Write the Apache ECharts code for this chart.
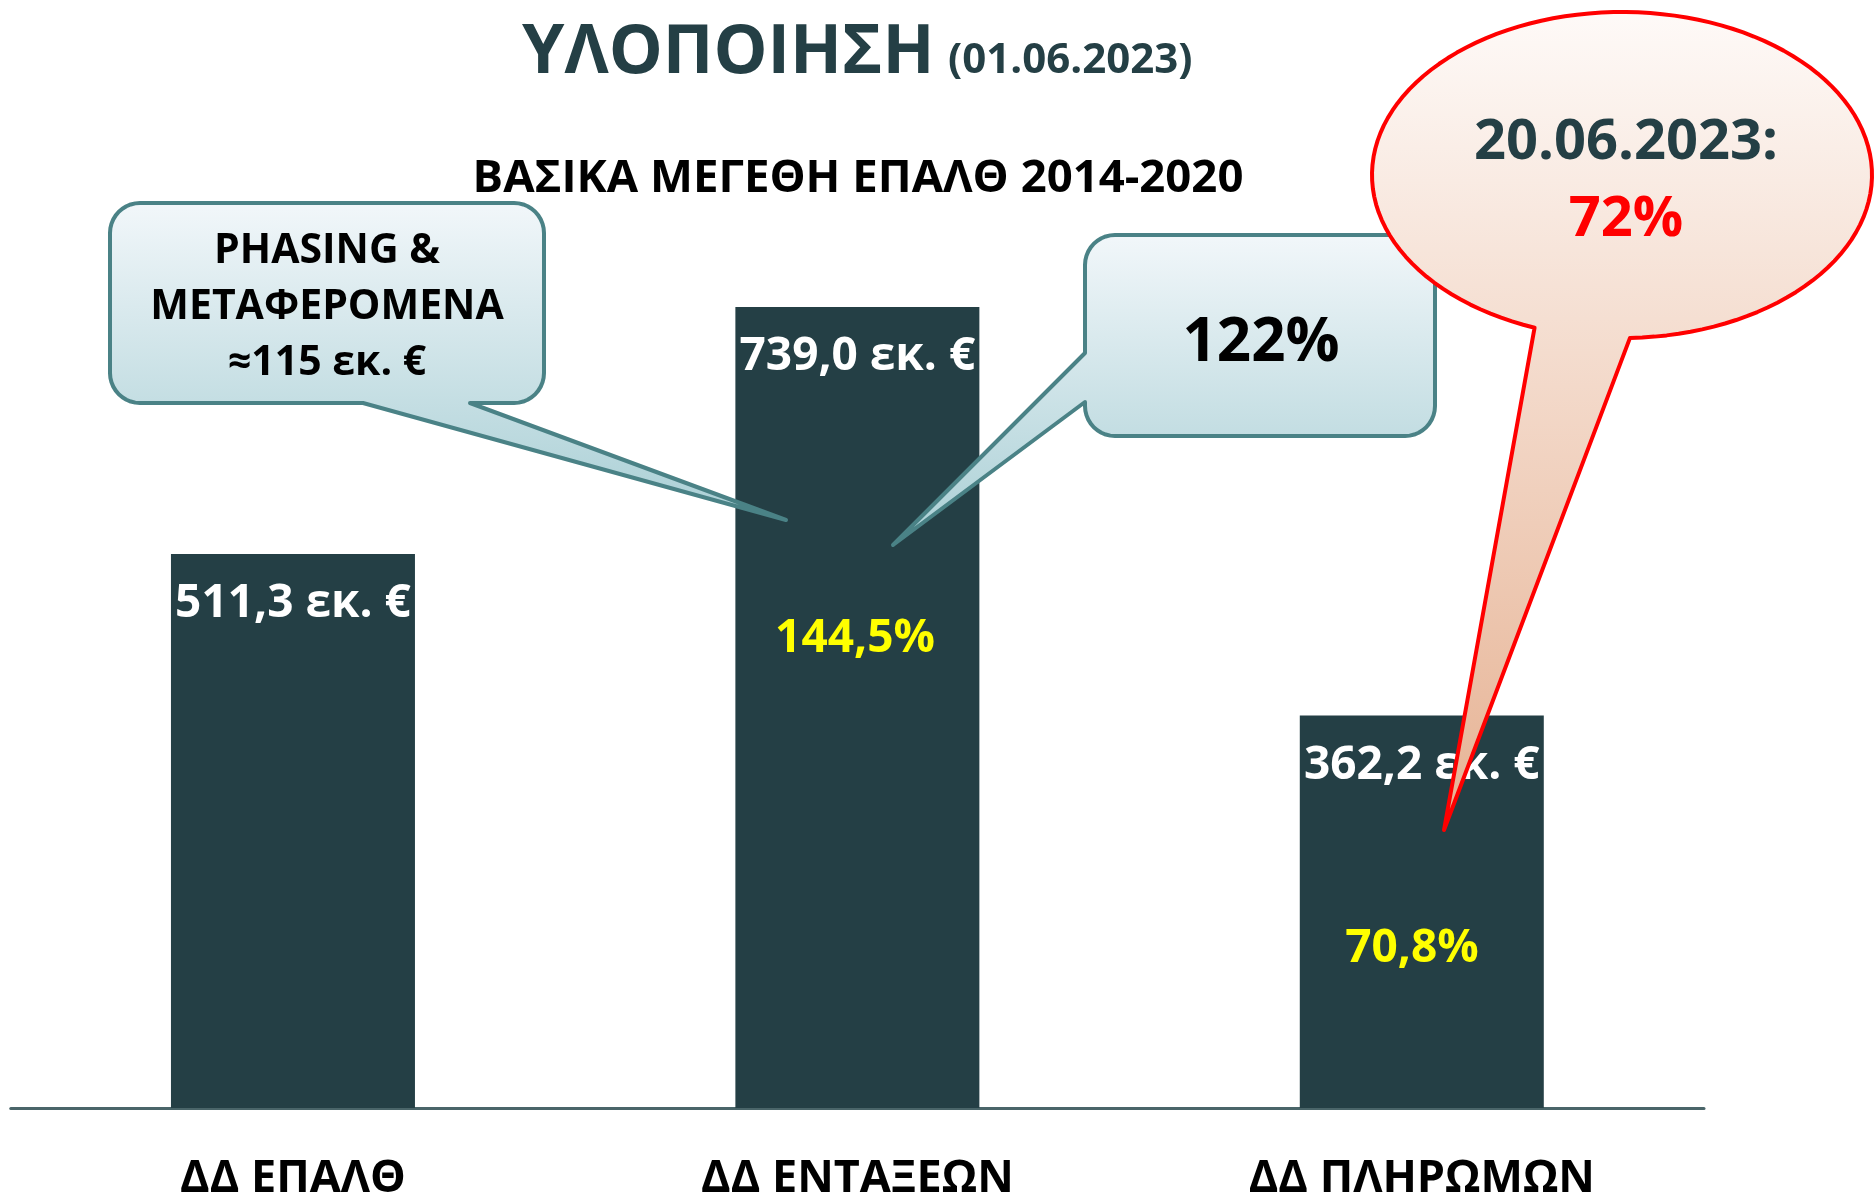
<!DOCTYPE html>
<html><head><meta charset="utf-8">
<script src="https://cdn.jsdelivr.net/npm/echarts@6/dist/echarts.min.js"></script>
<style>html,body{margin:0;padding:0;background:#fff}#c{width:1874px;height:1196px}</style>
</head><body><div id="c"></div>
<script>
// ---- data ----
const categories = ['ΔΔ ΕΠΑΛΘ', 'ΔΔ ΕΝΤΑΞΕΩΝ', 'ΔΔ ΠΛΗΡΩΜΩΝ'];
const values = [511.3, 739.0, 362.2];
const titleMain = 'ΥΛΟΠΟΙΗΣΗ';
const titleDate = '(01.06.2023)';
const subtitleText = 'ΒΑΣΙΚΑ ΜΕΓΕΘΗ ΕΠΑΛΘ 2014-2020';
const calloutPhasing = ['PHASING &', 'ΜΕΤΑΦΕΡΟΜΕΝΑ', '≈115 εκ. €'];
const callout122 = '122%';
const balloonDate = '20.06.2023:';
const balloonPct = '72%';

// ---- styling / layout ----
const FONT = '"Open Sans", "Noto Sans", "DejaVu Sans", sans-serif';
const DARK = '#243f45';
const fmtVal = v => v.toFixed(1).replace('.', ',') + ' εκ. €';
const fmtPct = (v, base) => (v / base * 100).toFixed(1).replace('.', ',') + '%';

function arcPts(cx, cy, rx, ry, a0, a1, n) {
  const pts = [];
  for (let i = 0; i <= n; i++) {
    const a = a0 + (a1 - a0) * i / n;
    pts.push([cx + rx * Math.cos(a), cy + ry * Math.sin(a)]);
  }
  return pts;
}
function roundBoxPts(x0, y0, x1, y1, r, tail) {
  const P = Math.PI, pts = [];
  pts.push(...arcPts(x1 - r, y0 + r, r, r, -P / 2, 0, 10));
  pts.push(...arcPts(x1 - r, y1 - r, r, r, 0, P / 2, 10));
  if (tail.side === 'bottom') {
    pts.push([tail.b, y1], tail.tip, [tail.a, y1]);
  }
  pts.push(...arcPts(x0 + r, y1 - r, r, r, P / 2, P, 10));
  if (tail.side === 'left') {
    pts.push([x0, tail.b], tail.tip, [x0, tail.a]);
  }
  pts.push(...arcPts(x0 + r, y0 + r, r, r, P, 1.5 * P, 10));
  return pts;
}
function balloonPts(cx, cy, rx, ry, pA, pB, tip) {
  const aA = Math.atan2((pA[1] - cy) / ry, (pA[0] - cx) / rx);
  const aB = Math.atan2((pB[1] - cy) / ry, (pB[0] - cx) / rx);
  const pts = arcPts(cx, cy, rx, ry, aA, aB - 2 * Math.PI, 120);
  pts.push(tip);
  return pts;
}
const blueGrad = () => ({ type: 'linear', x: 0, y: 0, x2: 0, y2: 1, colorStops: [
  { offset: 0, color: '#f2f7fa' }, { offset: 1, color: '#a9cfd5' }] });
const redGrad = () => ({ type: 'linear', x: 0, y: 0, x2: 0, y2: 1, colorStops: [
  { offset: 0, color: '#fefaf8' }, { offset: 1, color: '#e6b293' }] });

const chart = echarts.init(document.getElementById('c'), null, { renderer: 'canvas' });

const box1 = roundBoxPts(110, 203, 544, 403, 30, { side: 'bottom', a: 363, b: 470, tip: [786, 520] });
const box2 = roundBoxPts(1085, 235, 1435, 436, 30, { side: 'left', a: 353, b: 402, tip: [893, 545] });
const ell = balloonPts(1622, 175, 250, 163, [1630, 338], [1535, 327], [1444, 830]);

const option = {
  animation: false,
  backgroundColor: '#ffffff',
  grid: { left: 10.75, right: 170, top: 241, bottom: 88, containLabel: false, outerBoundsMode: 'none' },
  xAxis: {
    type: 'category',
    data: categories,
    axisLine: { show: true, lineStyle: { color: '#4a6569', width: 3 } },
    axisTick: { show: false },
    axisLabel: { margin: 49, fontSize: 45, fontWeight: 'bold', fontFamily: FONT, color: '#000' }
  },
  yAxis: { type: 'value', min: 0, max: 800, show: false, splitLine: { show: false } },
  series: [{
    type: 'bar',
    data: values,
    barWidth: 244,
    itemStyle: { color: DARK },
    label: {
      show: true,
      position: ['50%', 50],
      align: 'center',
      verticalAlign: 'middle',
      color: '#ffffff',
      fontSize: 46,
      fontWeight: 'bold',
      fontFamily: FONT,
      formatter: p => fmtVal(p.value)
    }
  }],
  graphic: [
    { type: 'text', z: 100, style: { text: titleMain, x: 522, y: 54, align: 'left', verticalAlign: 'middle', fill: DARK, fontSize: 68, fontWeight: 'bold', fontFamily: FONT } },
    { type: 'text', z: 100, style: { text: titleDate, x: 948, y: 61, align: 'left', verticalAlign: 'middle', fill: DARK, fontSize: 42, fontWeight: 'bold', fontFamily: FONT } },
    { type: 'text', z: 100, style: { text: subtitleText, x: 858, y: 179, align: 'center', verticalAlign: 'middle', fill: '#000', fontSize: 45.5, fontWeight: 'bold', fontFamily: FONT } },

    { type: 'polygon', z: 100, shape: { points: box1 }, style: { fill: blueGrad(), stroke: '#4a8286', lineWidth: 4, lineJoin: 'round' } },
    { type: 'text', z: 101, style: { text: calloutPhasing.join('\n'), x: 327, y: 307, align: 'center', verticalAlign: 'middle', lineHeight: 56, fill: '#000', fontSize: 41, fontWeight: 'bold', fontFamily: FONT } },

    { type: 'polygon', z: 100, shape: { points: box2 }, style: { fill: blueGrad(), stroke: '#4a8286', lineWidth: 4, lineJoin: 'round' } },
    { type: 'text', z: 101, style: { text: callout122, x: 1261, y: 344, align: 'center', verticalAlign: 'middle', fill: '#000', fontSize: 60, fontWeight: 'bold', fontFamily: FONT } },

    { type: 'polygon', z: 100, shape: { points: ell }, style: { fill: redGrad(), stroke: '#ff0000', lineWidth: 4, lineJoin: 'round' } },
    { type: 'text', z: 101, style: { text: balloonDate, x: 1626, y: 143, align: 'center', verticalAlign: 'middle', fill: DARK, fontSize: 56, fontWeight: 'bold', fontFamily: FONT } },
    { type: 'text', z: 101, style: { text: balloonPct, x: 1626, y: 220, align: 'center', verticalAlign: 'middle', fill: '#ff0000', fontSize: 56, fontWeight: 'bold', fontFamily: FONT } },

    { type: 'text', z: 101, style: { text: fmtPct(values[1], values[0]), x: 855, y: 639, align: 'center', verticalAlign: 'middle', fill: '#ffff00', fontSize: 46, fontWeight: 'bold', fontFamily: FONT } },
    { type: 'text', z: 101, style: { text: fmtPct(values[2], values[0]), x: 1412, y: 949, align: 'center', verticalAlign: 'middle', fill: '#ffff00', fontSize: 46, fontWeight: 'bold', fontFamily: FONT } }
  ]
};
chart.setOption(option);
</script>
</body></html>
